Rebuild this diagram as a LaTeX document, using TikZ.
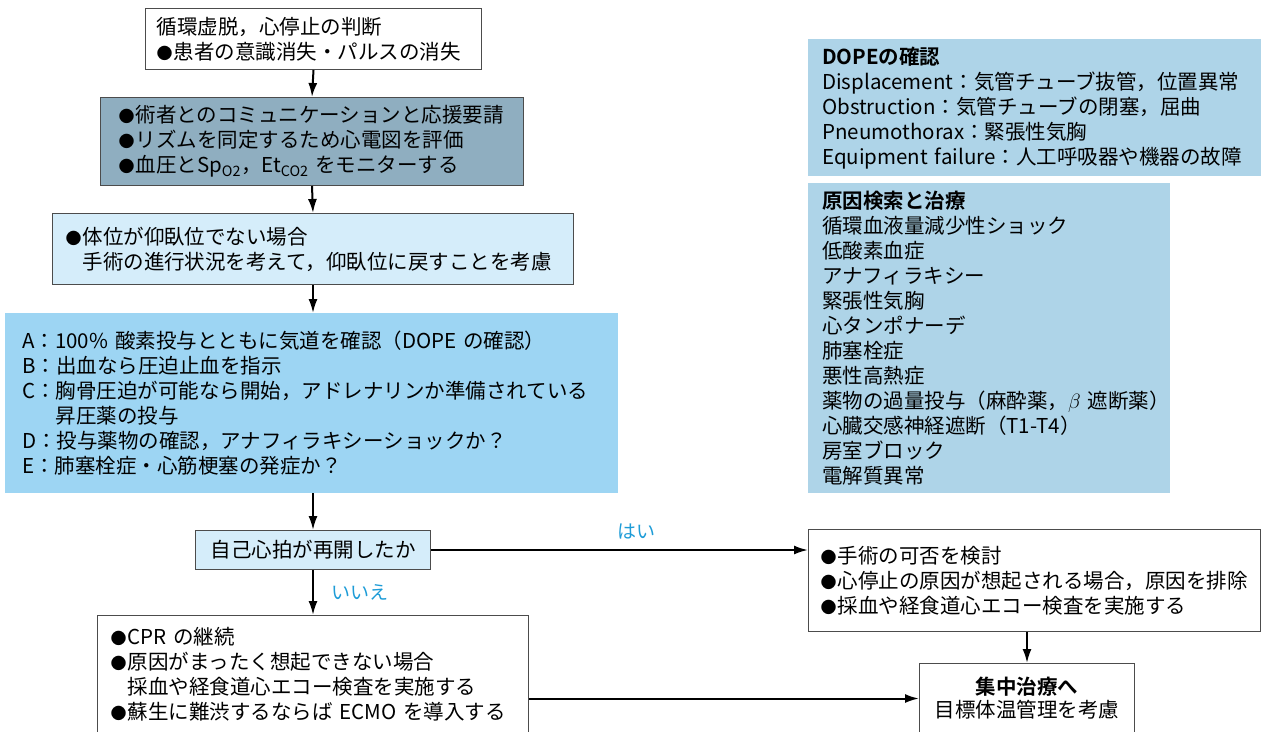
\documentclass[tikz,border=0pt]{standalone}
\usepackage{fontspec}
\setmainfont{Noto Sans CJK JP}[BoldFont={Noto Sans CJK JP Bold}]
\usetikzlibrary{arrows.meta}
\definecolor{slateblue}{HTML}{8FAEC0}
\definecolor{paleblue}{HTML}{D5EDFA}
\definecolor{skyblue}{HTML}{9DD5F3}
\definecolor{sideblue}{HTML}{AED4E8}
\definecolor{labelblue}{HTML}{1E9CD7}
\newcommand{\blt}{\makebox[17pt][l]{\fontsize{16}{16}\selectfont●}}
\tikzset{
  box/.style={rectangle, anchor=north west, align=left, inner ysep=0pt,
    font=\fontsize{20.5}{25}\selectfont},
  framed/.style={box, draw=black!70, line width=1pt},
  arr/.style={-{Latex[length=14pt,width=9pt]}, line width=2pt},
  yesno/.style={text=labelblue, font=\fontsize{19}{22}\selectfont}
}

\begin{document}
\begin{tikzpicture}[x=1pt,y=-1pt]
\useasboundingbox (0,0) rectangle (1261,731);

% left column
\node[framed, fill=white, inner xsep=11pt, text width=314pt, minimum height=61pt] (judge) at (145,8)
  {循環虚脱，心停止の判断\\ \blt 患者の意識消失・パルスの消失};
\node[framed, fill=slateblue, inner xsep=18pt, text width=387pt, minimum height=88pt] (call) at (100,97)
  {\blt 術者とのコミュニケーションと応援要請\\
   \blt リズムを同定するため心電図を評価\\
   \blt 血圧とSp\textsubscript{O2}，Et\textsubscript{CO2}~をモニターする};
\node[framed, fill=paleblue, inner xsep=13pt, text width=495pt, minimum height=71pt] (posture) at (52,213)
  {\blt 体位が仰臥位でない場合\\
   \phantom{\blt}手術の進行状況を考えて，仰臥位に戻すことを考慮};
\node[box, fill=skyblue, inner xsep=17pt, text width=579pt, minimum height=180pt] (abcde) at (5,313)
  {A：100\%~酸素投与とともに気道を確認（DOPE~の確認）\\
   B：出血なら圧迫止血を指示\\
   C：胸骨圧迫が可能なら開始，アドレナリンか準備されている\\
   \phantom{C：}昇圧薬の投与\\
   D：投与薬物の確認，アナフィラキシーショックか？\\
   E：肺塞栓症・心筋梗塞の発症か？};
\node[framed, fill=paleblue, align=center, anchor=north west, inner xsep=0pt,
  minimum width=235pt, minimum height=39pt] (restart) at (195,530) {自己心拍が再開したか};
\node[framed, fill=white, inner xsep=13pt, text width=405pt, minimum height=117pt] (cpr) at (97,615)
  {\blt CPR~の継続\\
   \blt 原因がまったく想起できない場合\\
   \phantom{\blt}採血や経食道心エコー検査を実施する\\
   \blt 蘇生に難渋するならば~ECMO~を導入する};

% right column
\node[box, fill=sideblue, inner xsep=14pt, text width=425pt, minimum height=137pt] (dope) at (808,39)
  {\textbf{DOPEの確認}\\
   Displacement：気管チューブ抜管，位置異常\\
   Obstruction：気管チューブの閉塞，屈曲\\
   Pneumothorax：緊張性気胸\\
   Equipment~failure：人工呼吸器や機器の故障};
\node[box, fill=sideblue, inner xsep=14pt, text width=334pt, minimum height=310pt] (cause) at (808,183)
  {\textbf{原因検索と治療}\\
   循環血液量減少性ショック\\
   低酸素血症\\
   アナフィラキシー\\
   緊張性気胸\\
   心タンポナーデ\\
   肺塞栓症\\
   悪性高熱症\\
   薬物の過量投与（麻酔薬，$\beta$~遮断薬）\\
   心臓交感神経遮断（T1-T4）\\
   房室ブロック\\
   電解質異常};
\node[framed, fill=white, inner xsep=12pt, text width=428pt, minimum height=102pt] (surgery) at (808,529)
  {\blt 手術の可否を検討\\
   \blt 心停止の原因が想起される場合，原因を排除\\
   \blt 採血や経食道心エコー検査を実施する};
\node[framed, fill=white, align=center, inner xsep=0pt, text width=215pt, minimum height=70pt,
  font=\fontsize{20.5}{23}\selectfont] (icu) at (919,663)
  {\textbf{集中治療へ}\\ 目標体温管理を考慮};

% connectors
\draw[arr] (judge.south) -- (call.north);
\draw[arr] (call.south) -- (posture.north);
\draw[arr] (posture.south) -- (abcde.north -| posture.south);
\draw[arr] (abcde.south -| restart.north) -- (restart.north);
\draw[arr] (restart.south) -- node[yesno, right, xshift=14pt] {いいえ} (restart.south |- cpr.north);
\draw[arr] (restart.east) -- node[yesno, above, pos=0.545, yshift=6pt] {はい} (surgery.west |- restart.east);
\draw[arr] (icu.north |- surgery.south) -- (icu.north);
\draw[arr] (cpr.east |- icu.west) -- (icu.west);
\end{tikzpicture}
\end{document}
